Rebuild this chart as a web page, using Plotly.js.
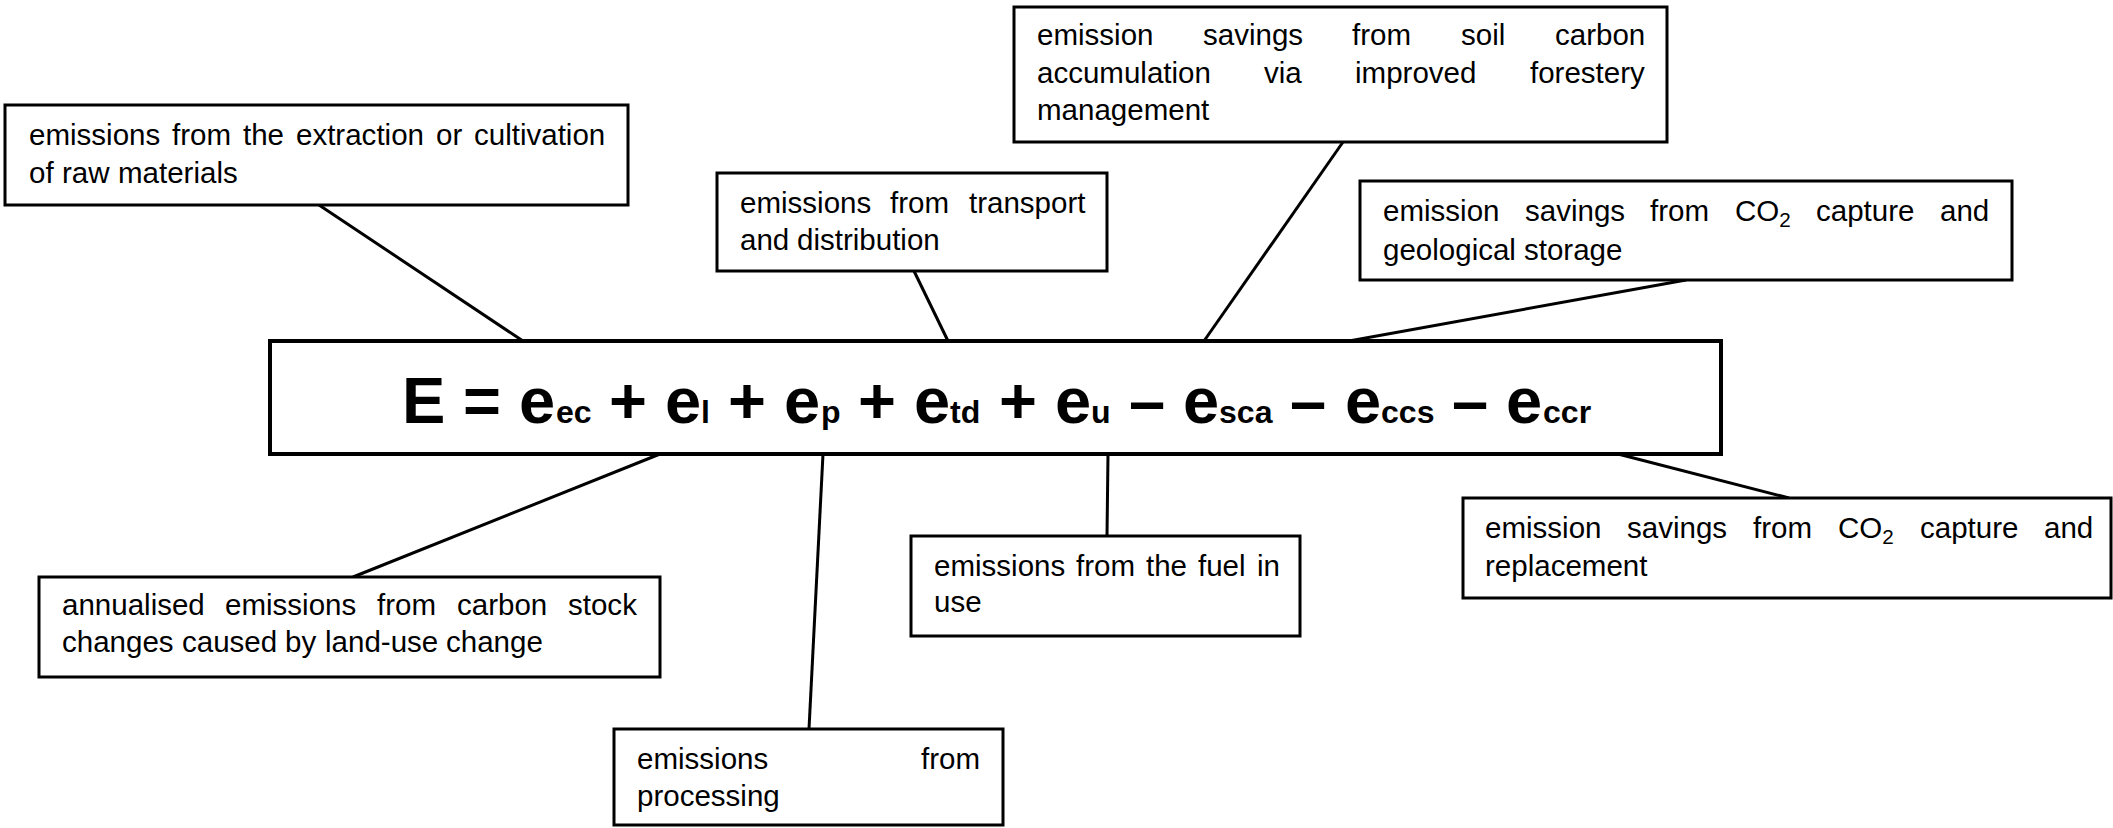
<!DOCTYPE html>
<html><head><meta charset="utf-8">
<script src="https://cdn.plot.ly/plotly-3.0.1.min.js"></script>
<style>html,body{margin:0;padding:0;background:#fff;overflow:hidden}</style>
</head><body><div id="chart" style="width:2113px;height:828px"></div>
<script>
// ---------- content (texts) ----------
const eqLeft = "E";
const eqTerms = ["ec", "l", "p", "td", "u", "sca", "ccs", "ccr"];
const eqOps = ["+", "+", "+", "+", "–", "–", "–"];

const textExtraction = ["emissions from the extraction or cultivation", "of raw materials"];
const textTransport = ["emissions from transport", "and distribution"];
const textSoil = ["emission savings from soil carbon", "accumulation via improved forestery", "management"];
const textCCS = ["emission savings from CO<sub>2</sub> capture and", "geological storage"];
const textLandUse = ["annualised emissions from carbon stock", "changes caused by land-use change"];
const textProcessing = ["emissions from", "processing"];
const textFuel = ["emissions from the fuel in", "use"];
const textCCR = ["emission savings from CO<sub>2</sub> capture and", "replacement"];

// ---------- layout geometry (pixels) ----------
const W = 2113, H = 828;
const boxes = [
  {t: textExtraction, x0: 5, y0: 105, x1: 628, y1: 205, tx0: 29, tx1: 605, ys: [137, 175]},
  {t: textTransport, x0: 717, y0: 173, x1: 1107, y1: 271, tx0: 740, tx1: 1085, ys: [205, 242]},
  {t: textSoil, x0: 1014, y0: 7, x1: 1667, y1: 142, tx0: 1037, tx1: 1645, ys: [37, 75, 112]},
  {t: textCCS, x0: 1360, y0: 181, x1: 2012, y1: 280, tx0: 1383, tx1: 1989, ys: [213, 252]},
  {t: textLandUse, x0: 39, y0: 577, x1: 660, y1: 677, tx0: 62, tx1: 637, ys: [607, 644]},
  {t: textProcessing, x0: 614, y0: 729, x1: 1003, y1: 825, tx0: 637, tx1: 980, ys: [761, 798]},
  {t: textFuel, x0: 911, y0: 536, x1: 1300, y1: 636, tx0: 934, tx1: 1280, ys: [568, 604]},
  {t: textCCR, x0: 1463, y0: 498, x1: 2111, y1: 598, tx0: 1485, tx1: 2093, ys: [530, 568]}
];
const mainBox = {x0: 270, y0: 341, x1: 1721, y1: 454};
const eqSpan = {x0: 402, x1: 1591, base: 423};
const connectors = [
  [319, 205, 523, 341], [914, 271, 948, 341], [1343, 142, 1204, 341], [1686, 280, 1349, 341],
  [660, 454, 353, 577], [823, 454, 809, 729], [1108, 454, 1107, 536], [1618, 454, 1789, 498]
];

// ---------- font handling ----------
const ctx = document.createElement('canvas').getContext('2d');
function hasFont(name) {
  const s = "emissions from the extraction 0123 mmmwww";
  ctx.font = "40px monospace"; const a = ctx.measureText(s).width;
  ctx.font = "40px '" + name + "', monospace"; const b = ctx.measureText(s).width;
  ctx.font = "40px serif"; const c = ctx.measureText(s).width;
  ctx.font = "40px '" + name + "', serif"; const d = ctx.measureText(s).width;
  return a !== b || c !== d;
}
const narrow = hasFont("Liberation Sans Narrow");
const FAM = narrow ? "Liberation Sans Narrow" : "Liberation Sans";
const K = narrow ? 1 : 0.82;
const ASC = 0.905;

const boxFont = 36 * K;
let eqFont = 75;
let eqSubFont = 37;

function meas(txt, size, bold) {
  ctx.font = (bold ? "bold " : "") + size + "px '" + FAM + "'";
  return ctx.measureText(txt).width;
}
function measRich(word, size) {
  let w = 0;
  const parts = word.split(/(<sub>.*?<\/sub>)/);
  parts.forEach(p => {
    if (!p) return;
    const m = p.match(/^<sub>(.*)<\/sub>$/);
    if (m) w += meas(m[1], size * 0.7, false); else w += meas(p, size, false);
  });
  return w;
}

const annotations = [];
const shapes = [];

connectors.forEach(c => shapes.push({type: 'line', xref: 'x', yref: 'y', x0: c[0], y0: c[1], x1: c[2], y1: c[3], line: {color: '#000', width: 3}}));

boxes.forEach(b => {
  shapes.push({type: 'rect', xref: 'x', yref: 'y', x0: b.x0, y0: b.y0, x1: b.x1, y1: b.y1, line: {color: '#000', width: 3}, fillcolor: '#fff'});
  b.t.forEach((line, i) => {
    const words = line.split(' ');
    const ws = words.map(w => measRich(w, boxFont));
    const sum = ws.reduce((a, c) => a + c, 0);
    const last = i === b.t.length - 1;
    const gap = (last || words.length < 2) ? meas(' ', boxFont, false) : (b.tx1 - b.tx0 - sum) / (words.length - 1);
    const baseline = b.ys[i] + 0.26 * boxFont;
    let x = b.tx0;
    words.forEach((w, j) => {
      annotations.push({x: x, y: baseline - ASC * boxFont, xref: 'x', yref: 'y', text: w, showarrow: false,
        xanchor: 'left', yanchor: 'top', borderpad: 0, borderwidth: 0,
        font: {family: FAM, size: boxFont, color: '#000'}});
      x += ws[j] + gap;
    });
  });
});

shapes.push({type: 'rect', xref: 'x', yref: 'y', x0: mainBox.x0, y0: mainBox.y0, x1: mainBox.x1, y1: mainBox.y1, line: {color: '#000', width: 4}, fillcolor: '#fff'});

// equation tokens
const tokens = [{s: eqLeft, sub: false, draw: true}, {s: ' ', sub: false}, {s: '=', sub: false, draw: true}, {s: ' ', sub: false}];
eqTerms.forEach((t, i) => {
  tokens.push({s: 'e', sub: false, draw: true});
  tokens.push({s: t, sub: true, draw: true});
  if (i < eqOps.length) {
    tokens.push({s: ' ', sub: false});
    tokens.push({s: eqOps[i], sub: false, draw: true});
    tokens.push({s: ' ', sub: false});
  }
});
function eqWidth() { return tokens.reduce((a, t) => a + meas(t.s, t.sub ? eqSubFont : eqFont, true), 0); }
const fit = (eqSpan.x1 - eqSpan.x0) / eqWidth();
eqFont *= fit; eqSubFont *= fit;
const tw = tokens.map(t => meas(t.s, t.sub ? eqSubFont : eqFont, true));
let ex = eqSpan.x0;
tokens.forEach((t, i) => {
  if (t.draw) {
    const sz = t.sub ? eqSubFont : eqFont;
    annotations.push({x: ex, y: eqSpan.base - ASC * sz, xref: 'x', yref: 'y', text: '<b>' + t.s + '</b>', showarrow: false,
      xanchor: 'left', yanchor: 'top', borderpad: 0, borderwidth: 0,
      font: {family: FAM, size: sz, color: '#000'}});
  }
  ex += tw[i];
});

const layout = {
  width: W, height: H, margin: {l: 0, r: 0, t: 0, b: 0},
  paper_bgcolor: '#fff', plot_bgcolor: '#fff', showlegend: false,
  xaxis: {range: [0, W], visible: false, fixedrange: true},
  yaxis: {range: [H, 0], visible: false, fixedrange: true},
  shapes: shapes, annotations: annotations
};
Plotly.newPlot('chart', [{x: [0], y: [0], mode: 'markers', marker: {opacity: 0}, hoverinfo: 'skip'}], layout, {staticPlot: true, displayModeBar: false});
</script></body></html>
